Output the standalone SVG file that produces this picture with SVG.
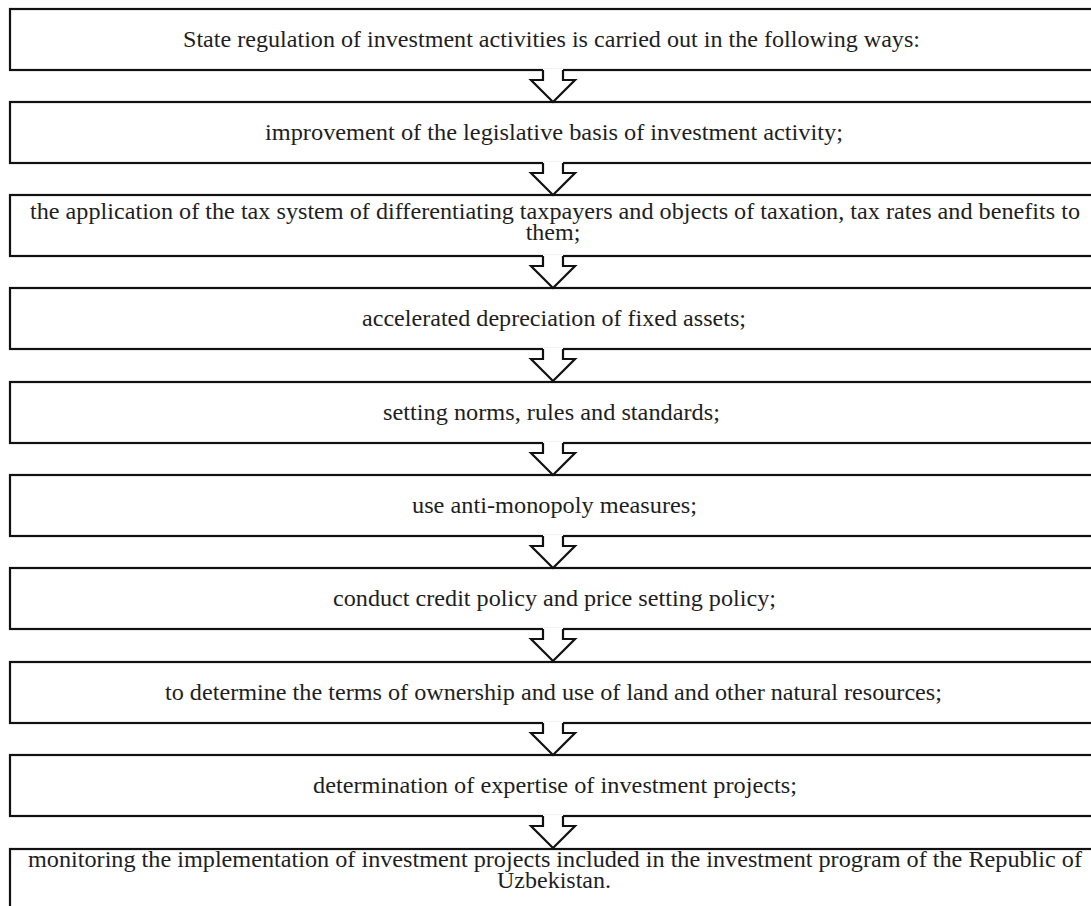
<svg xmlns="http://www.w3.org/2000/svg" xmlns:xlink="http://www.w3.org/1999/xlink" width="1091" height="906" viewBox="0 0 1091 906">
  <style>
    .box { fill: #ffffff; stroke: #111111; stroke-width: 2.2; }
    .lbl { font-family: "Liberation Serif", "Times New Roman", Times, serif; font-size: 24px; fill: #1e1e1e; }
    .mid { text-anchor: middle; }
    .arrow-fill { fill: #ffffff; stroke: none; }
    .arrow-line { fill: none; stroke: #111111; stroke-width: 2.2; stroke-linejoin: miter; }
  </style>
  <defs>
    <!-- block arrow, drawn from the bottom edge (y=0) of one box down to the top of the next (y=32) -->
    <g id="down-arrow">
      <path class="arrow-fill" d="M543,-1.5 V10 H531 L553,32 L575,10 H563 V-1.5 Z"/>
      <path class="arrow-line" d="M543,0 V10 H531 L553,32 L575,10 H563 V0"/>
    </g>
  </defs>
  <rect x="0" y="0" width="1091" height="906" fill="#ffffff"/>

  <!-- boxes -->
  <g id="n1"><rect class="box" x="10" y="9" width="1090" height="61"/>
    <text class="lbl" x="183" y="47" textLength="737" lengthAdjust="spacingAndGlyphs">State regulation of investment activities is carried out in the following ways:</text></g>
  <g id="n2"><rect class="box" x="10" y="102" width="1090" height="61"/>
    <text class="lbl" x="265" y="140" textLength="578" lengthAdjust="spacingAndGlyphs">improvement of the legislative basis of investment activity;</text></g>
  <g id="n3"><rect class="box" x="10" y="195" width="1090" height="61"/>
    <text class="lbl" x="30" y="219" textLength="1050" lengthAdjust="spacingAndGlyphs">the application of the tax system of differentiating taxpayers and objects of taxation, tax rates and benefits to</text>
    <text class="lbl mid" x="553" y="240">them;</text></g>
  <g id="n4"><rect class="box" x="10" y="288" width="1090" height="61"/>
    <text class="lbl" x="362" y="326" textLength="384" lengthAdjust="spacingAndGlyphs">accelerated depreciation of fixed assets;</text></g>
  <g id="n5"><rect class="box" x="10" y="382" width="1090" height="61"/>
    <text class="lbl" x="383" y="420" textLength="337" lengthAdjust="spacingAndGlyphs">setting norms, rules and standards;</text></g>
  <g id="n6"><rect class="box" x="10" y="475" width="1090" height="61"/>
    <text class="lbl" x="412" y="513" textLength="285" lengthAdjust="spacingAndGlyphs">use anti-monopoly measures;</text></g>
  <g id="n7"><rect class="box" x="10" y="568" width="1090" height="61"/>
    <text class="lbl" x="333" y="606" textLength="443" lengthAdjust="spacingAndGlyphs">conduct credit policy and price setting policy;</text></g>
  <g id="n8"><rect class="box" x="10" y="662" width="1090" height="61"/>
    <text class="lbl" x="165" y="700" textLength="777" lengthAdjust="spacingAndGlyphs">to determine the terms of ownership and use of land and other natural resources;</text></g>
  <g id="n9"><rect class="box" x="10" y="755" width="1090" height="61"/>
    <text class="lbl" x="313" y="793" textLength="484" lengthAdjust="spacingAndGlyphs">determination of expertise of investment projects;</text></g>
  <g id="n10"><rect class="box" x="10" y="849" width="1090" height="70"/>
    <text class="lbl" x="28" y="867" textLength="1054" lengthAdjust="spacingAndGlyphs">monitoring the implementation of investment projects included in the investment program of the Republic of</text>
    <text class="lbl mid" x="554" y="888">Uzbekistan.</text></g>

  <!-- connectors -->
  <g id="connectors">
    <use xlink:href="#down-arrow" transform="translate(0,70)"/>
    <use xlink:href="#down-arrow" transform="translate(0,163)"/>
    <use xlink:href="#down-arrow" transform="translate(0,256)"/>
    <use xlink:href="#down-arrow" transform="translate(0,349)"/>
    <use xlink:href="#down-arrow" transform="translate(0,443)"/>
    <use xlink:href="#down-arrow" transform="translate(0,536)"/>
    <use xlink:href="#down-arrow" transform="translate(0,629)"/>
    <use xlink:href="#down-arrow" transform="translate(0,723)"/>
    <use xlink:href="#down-arrow" transform="translate(0,816)"/>
  </g>
</svg>
